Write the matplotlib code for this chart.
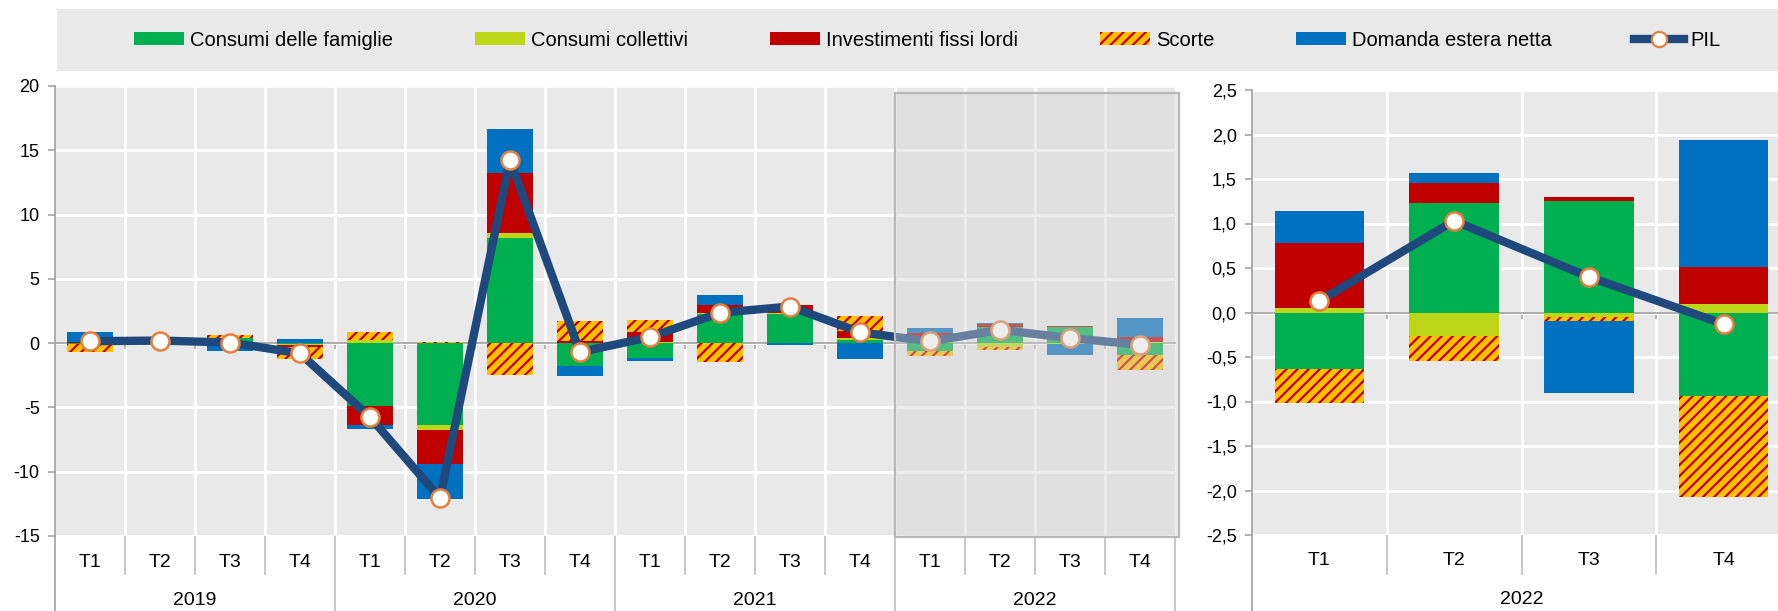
import numpy as np
import matplotlib
matplotlib.use('Agg')
import matplotlib.pyplot as plt
from matplotlib import font_manager
from matplotlib.patches import Rectangle, Patch
from matplotlib.lines import Line2D

# ---------------- data ----------------
years = ['2019', '2020', '2021', '2022']
quarters = ['T1', 'T2', 'T3', 'T4']
series_names = ['Consumi delle famiglie', 'Consumi collettivi',
                'Investimenti fissi lordi', 'Scorte', 'Domanda estera netta']
pil_name = 'PIL'

cons_fam = [-0.10, 0.15, 0.40, -0.10,
            -4.87, -6.35, 8.21, -1.76,
            -1.17, 2.30, 2.28, 0.26,
            -0.635, 1.234, 1.258, -0.94]
cons_coll = [0.02, 0.00, 0.03, -0.05,
             0.25, -0.44, 0.34, 0.05,
             0.10, 0.05, 0.08, 0.15,
             0.055, -0.264, -0.05, 0.095]
invest = [0.08, 0.05, -0.05, -0.15,
          -1.48, -2.59, 4.72, 0.10,
          0.80, 0.65, 0.60, 0.57,
          0.725, 0.225, 0.04, 0.414]
scorte = [-0.60, -0.15, 0.20, -0.90,
          0.65, 0.10, -2.46, 1.60,
          0.90, -1.48, 0.00, 1.17,
          -0.38, -0.284, -0.04, -1.134]
estera = [0.73, 0.05, -0.55, 0.35,
          -0.31, -2.75, 3.39, -0.78,
          -0.18, 0.78, -0.15, -1.25,
          0.365, 0.114, -0.81, 1.427]
pil = [0.15, 0.20, 0.05, -0.80,
       -5.75, -12.05, 14.25, -0.70,
       0.47, 2.36, 2.85, 0.85,
       0.13, 1.03, 0.40, -0.13]

# ---------------- style ----------------
colors = ['#00b050', '#bdd617', '#c00000', '#ffc000', '#0070c0']
hatch_color = '#c00000'
line_color = '#1f497d'
marker_edge = '#e3803d'
bg = '#e9e9e9'
axis_grey = '#a6a6a6'

names = {f.name for f in font_manager.fontManager.ttflist}
if 'Liberation Sans Narrow' in names:
    FONT = 'Liberation Sans Narrow'
    fs_tick, fs_cat, fs_leg = 14, 15, 16.5
else:
    FONT = 'Liberation Sans'
    fs_tick, fs_cat, fs_leg = 13, 14, 14.5

plt.rcParams['font.family'] = [FONT, 'DejaVu Sans']
plt.rcParams['axes.unicode_minus'] = False
plt.rcParams['hatch.linewidth'] = 1.6
plt.rcParams['hatch.color'] = hatch_color

W, H = 1778, 611
fig = plt.figure(figsize=(W / 100, H / 100), dpi=100)

# legend background band
fig.add_artist(Rectangle((57 / W, 1 - 71 / H), 1 - 57 / W, 62 / H,
                         transform=fig.transFigure, facecolor=bg,
                         edgecolor='none', zorder=0))


def draw_panel(ax, data, pil_vals, ylim, yticks, ylabels, width,
               cat_y, div_y, year_y, bottom_y, year_groups):
    n = len(pil_vals)
    x = np.arange(n)
    ax.set_facecolor(bg)
    ax.set_xlim(-0.5, n - 0.5)
    ax.set_ylim(*ylim)
    ax.set_axisbelow(True)

    pos_base = np.zeros(n)
    neg_base = np.zeros(n)
    for k, vals in enumerate(data):
        v = np.asarray(vals, dtype=float)
        base = np.where(v >= 0, pos_base, neg_base)
        if k == 3:
            ax.bar(x, v, width, bottom=base, facecolor=colors[k],
                   edgecolor=hatch_color, linewidth=0, hatch='///', zorder=3)
        else:
            ax.bar(x, v, width, bottom=base, color=colors[k],
                   linewidth=0, zorder=3)
        pos_base = pos_base + np.where(v >= 0, v, 0)
        neg_base = neg_base + np.where(v < 0, v, 0)

    ax.plot(x, pil_vals, color=line_color, lw=6, marker='o', ms=13,
            mfc='white', mec=marker_edge, mew=1.8, zorder=6,
            solid_joinstyle='round')

    # axes styling
    for s in ['top', 'right']:
        ax.spines[s].set_visible(False)
    ax.spines['left'].set_color(axis_grey)
    ax.spines['left'].set_linewidth(1.3)
    ax.spines['bottom'].set_position(('data', 0))
    ax.spines['bottom'].set_color(axis_grey)
    ax.spines['bottom'].set_linewidth(1.3)
    ax.spines['bottom'].set_zorder(2.5)

    ax.set_yticks(yticks, labels=ylabels)
    ax.tick_params(axis='y', direction='out', length=5, color=axis_grey,
                   width=1.2, labelsize=fs_tick, pad=6, labelcolor='black')
    ax.set_xticks(x, labels=[''] * n)
    ax.set_xticks(np.arange(0.5, n - 0.5), minor=True)
    ax.tick_params(axis='x', which='major', length=0)
    ax.tick_params(axis='x', which='minor', direction='out', length=4,
                   color=axis_grey, width=1.2)
    ax.yaxis.grid(True, color='white', lw=2)
    ax.xaxis.grid(True, which='minor', color='white', lw=2)

    tx = ax.get_xaxis_transform()
    # left axis line down to figure bottom
    ax.plot([-0.5, -0.5], [0, bottom_y], transform=tx, color=axis_grey,
            lw=1.3, clip_on=False, solid_capstyle='butt')
    # quarter labels and dividers
    for i in range(n):
        ax.text(i, cat_y, quarters[i % 4], transform=tx, ha='center',
                va='center', fontsize=fs_cat)
    for b in np.arange(0.5, n + 0.5):
        is_year = (b + 0.5) % 4 == 0
        ax.plot([b, b], [0, bottom_y if is_year else div_y], transform=tx,
                color='#bfbfbf', lw=1.2, clip_on=False,
                solid_capstyle='butt')
    for g, yr in enumerate(year_groups):
        ax.text(4 * g + 1.5, year_y, yr, transform=tx, ha='center',
                va='center', fontsize=fs_cat)


series = [cons_fam, cons_coll, invest, scorte, estera]

# left panel
axL = fig.add_axes([55 / W, (H - 536) / H, 1120 / W, 450 / H])
lt = np.arange(-15, 21, 5)
draw_panel(axL, series, pil, (-15, 20), lt, [f'{v:d}' for v in lt],
           0.67, cat_y=-0.058, div_y=-0.087, year_y=-0.143,
           bottom_y=-(H - 536) / 450 - 0.01, year_groups=years)

# faded overlay over 2022 in left panel
axL.add_patch(Rectangle((11.5, -15.09), 4.05, 34.53,
                        facecolor=(0.83, 0.83, 0.83, 0.4),
                        edgecolor='#b8b8b8', lw=1.6, zorder=10,
                        clip_on=False))

# right panel (2022 only)
last = slice(12, 16)
axR = fig.add_axes([1252 / W, (H - 535) / H, 539 / W, 445 / H])
rt = np.round(np.arange(-2.5, 2.51, 0.5), 1)
draw_panel(axR, [np.asarray(s)[last] for s in series], np.asarray(pil)[last],
           (-2.5, 2.5), rt, [f'{v:.1f}'.replace('.', ',') for v in rt],
           0.665, cat_y=-0.058, div_y=-0.09, year_y=-0.145,
           bottom_y=-(H - 535) / 445 - 0.01, year_groups=['2022'])

# legend
fs_px = fs_leg * 100 / 72
handles = [Patch(facecolor=colors[k], linewidth=0) for k in range(5)]
handles[3] = Patch(facecolor=colors[3], edgecolor=hatch_color, linewidth=0,
                   hatch='///')
handles.append(Line2D([], [], color=line_color, lw=6, marker='o', ms=11,
                      mfc='white', mec=marker_edge, mew=1.6))
fig.legend(handles, series_names + [pil_name], loc='center',
           bbox_to_anchor=(927 / W, 1 - 40 / H), ncol=6, frameon=False,
           fontsize=fs_leg, handlelength=50 / fs_px,
           handleheight=13 / fs_px, handletextpad=6 / fs_px,
           columnspacing=82 / fs_px, borderaxespad=0, borderpad=0)

fig.savefig('out.png', dpi=100)
